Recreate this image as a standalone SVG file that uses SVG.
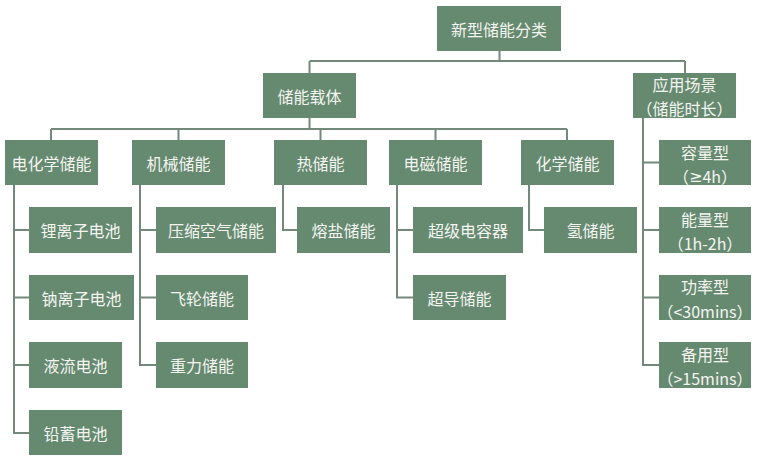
<svg xmlns="http://www.w3.org/2000/svg" width="768" height="459" viewBox="0 0 768 459">
<style>
.b{fill:#668a70}
.t{font-family:"Noto Sans CJK SC","Noto Sans",sans-serif;font-size:16px;fill:#f4f5f0;text-anchor:middle;dominant-baseline:central}
.l{font-family:"Noto Sans","DejaVu Sans",sans-serif}
.c{fill:none;stroke:#72897b;stroke-width:2}
</style>
<rect width="768" height="459" fill="#ffffff"/>
<g id="connectors" class="c">
<path d="M499.5 51V61M309.5 61H685M309.5 61V73M685 61V73"/>
<path d="M309.5 118V129M51 129H567M51 129V140M178.5 129V140M320.5 129V140M435.5 129V140M567 129V140"/>
<path d="M14 185V433H29M14 230H29M14 297.5H29M14 365H29"/>
<path d="M140 185V365H156M140 230H156M140 297.5H156"/>
<path d="M283 185V230H297"/>
<path d="M397 185V297.5H413M397 230H413"/>
<path d="M529 185V230H544"/>
<path d="M643 118V365H659M643 162.5H659M643 230H659M643 297.5H659"/>
</g>
<g id="root"><rect class="b" x="437" y="6" width="124" height="45"/><text class="t" x="499" y="28.5">新型储能分类</text></g>
<g id="carrier"><rect class="b" x="263" y="73" width="93" height="45"/><text class="t" x="309.5" y="95.5">储能载体</text></g>
<g id="scene"><rect class="b" x="633" y="73" width="103" height="45"/><text class="t" x="684.5" y="83.5">应用场景</text><text class="t" x="684.5" y="108">（储能时长）</text></g>
<g id="electrochem"><rect class="b" x="5" y="140" width="93" height="45"/><text class="t" x="51.5" y="162.5">电化学储能</text></g>
<g id="mechanical"><rect class="b" x="132" y="140" width="93" height="45"/><text class="t" x="178.5" y="162.5">机械储能</text></g>
<g id="thermal"><rect class="b" x="274" y="140" width="93" height="45"/><text class="t" x="320.5" y="162.5">热储能</text></g>
<g id="electromag"><rect class="b" x="389" y="140" width="93" height="45"/><text class="t" x="435.5" y="162.5">电磁储能</text></g>
<g id="chemical"><rect class="b" x="521" y="140" width="93" height="45"/><text class="t" x="567.5" y="162.5">化学储能</text></g>
<g id="li"><rect class="b" x="29" y="207" width="103" height="46"/><text class="t" x="80.5" y="230">锂离子电池</text></g>
<g id="na"><rect class="b" x="29" y="275" width="105" height="45"/><text class="t" x="81.5" y="297.5">钠离子电池</text></g>
<g id="flow"><rect class="b" x="29" y="342" width="93" height="46"/><text class="t" x="75.5" y="365">液流电池</text></g>
<g id="lead"><rect class="b" x="29" y="410" width="93" height="45"/><text class="t" x="75.5" y="432.5">铅蓄电池</text></g>
<g id="caes"><rect class="b" x="156" y="207" width="120" height="46"/><text class="t" x="216" y="230">压缩空气储能</text></g>
<g id="flywheel"><rect class="b" x="156" y="275" width="92" height="45"/><text class="t" x="202" y="297.5">飞轮储能</text></g>
<g id="gravity"><rect class="b" x="156" y="342" width="92" height="46"/><text class="t" x="202" y="365">重力储能</text></g>
<g id="salt"><rect class="b" x="297" y="207" width="93" height="46"/><text class="t" x="343.5" y="230">熔盐储能</text></g>
<g id="supercap"><rect class="b" x="413" y="207" width="110" height="46"/><text class="t" x="468" y="230">超级电容器</text></g>
<g id="smes"><rect class="b" x="413" y="275" width="93" height="45"/><text class="t" x="459.5" y="297.5">超导储能</text></g>
<g id="hydrogen"><rect class="b" x="544" y="207" width="93" height="46"/><text class="t" x="590.5" y="230">氢储能</text></g>
<g id="capacity"><rect class="b" x="659" y="140" width="92" height="45"/><text class="t" x="705" y="151.5">容量型</text><text class="t" x="705" y="176">（<tspan class="l">≥</tspan>4h）</text></g>
<g id="energy"><rect class="b" x="659" y="207" width="92" height="46"/><text class="t" x="705" y="218.5">能量型</text><text class="t" x="705" y="243">（1h-2h）</text></g>
<g id="power"><rect class="b" x="659" y="275" width="92" height="45"/><text class="t" x="705" y="286">功率型</text><text class="t" x="705" y="310.5">（&lt;30mins）</text></g>
<g id="backup"><rect class="b" x="659" y="342" width="92" height="46"/><text class="t" x="705" y="353.5">备用型</text><text class="t" x="705" y="378">（&gt;15mins）</text></g>
</svg>
